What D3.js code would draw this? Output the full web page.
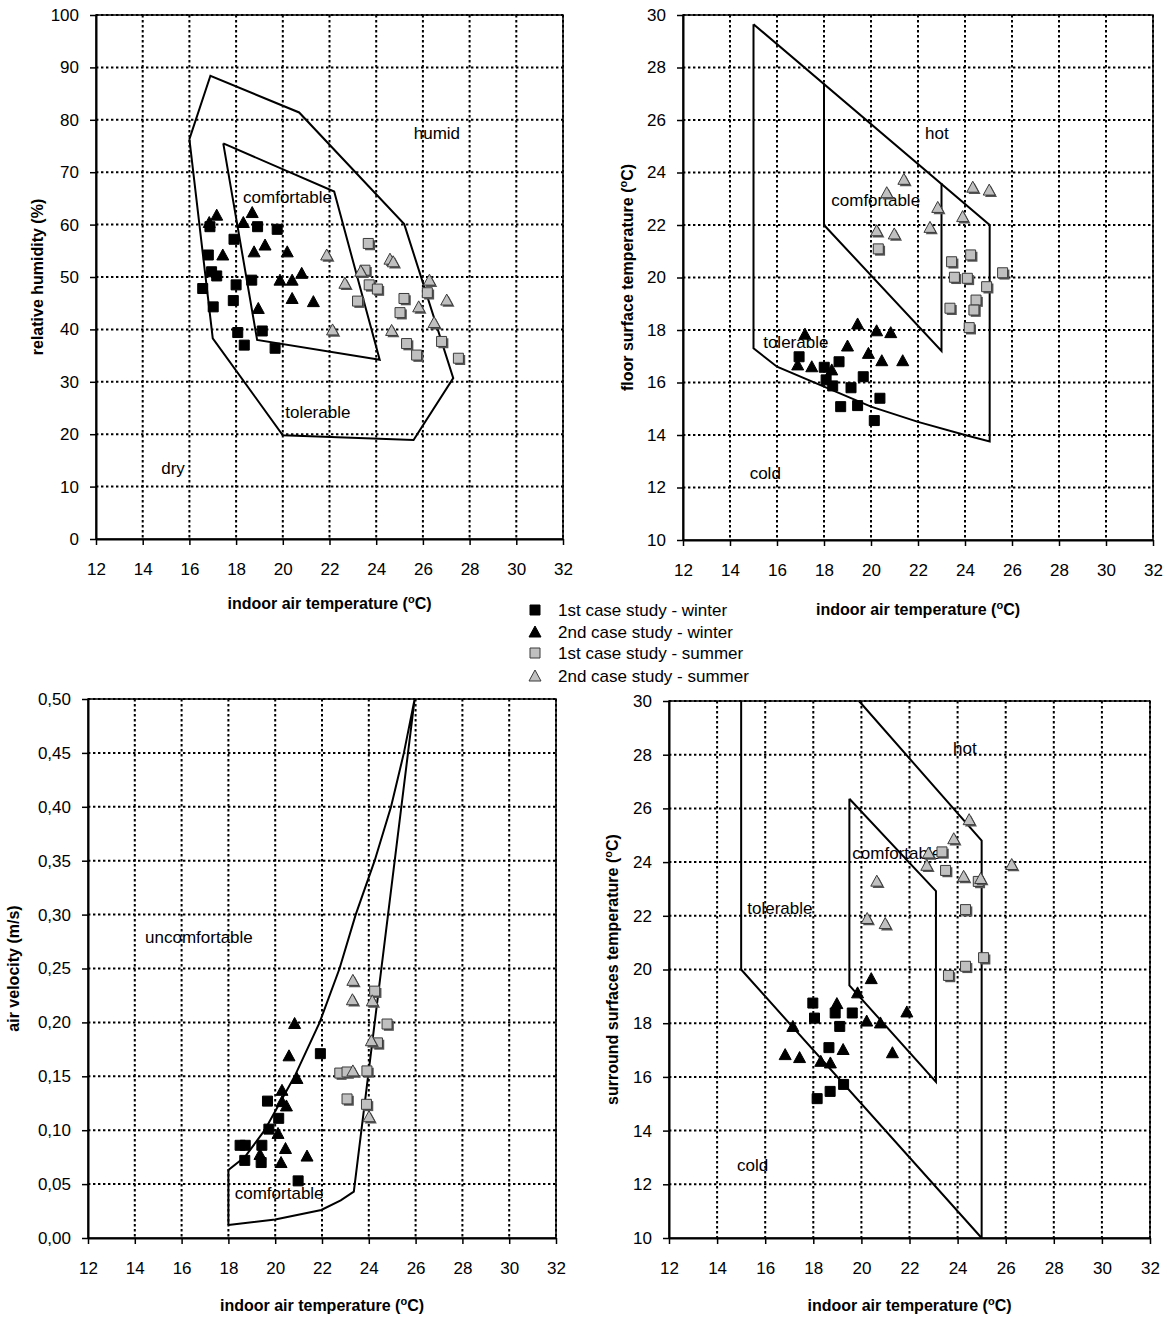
<!DOCTYPE html>
<html>
<head>
<meta charset="utf-8">
<script src="https://cdn.jsdelivr.net/npm/d3@7"></script>
<style>
  body { margin: 0; background: #fff; }
  text { font-family: Arial, "Liberation Sans", sans-serif; fill: #000; }
</style>
</head>
<body>
<svg id="chart" width="1167" height="1317"></svg>
<script>
// ---- shared axis values
const xTicks = d3.range(12, 33, 2);
const rhTicks = d3.range(0, 101, 10);
const floorTicks = d3.range(10, 31, 2);
const velTicks = [0, 0.05, 0.10, 0.15, 0.20, 0.25, 0.30, 0.35, 0.40, 0.45, 0.50];
const surrTicks = d3.range(10, 31, 2);

const seriesNames = ["1st case study - winter", "2nd case study - winter",
                     "1st case study - summer", "2nd case study - summer"];

// ---- relative humidity vs air temperature
const rhWinter1 = [[16.88,59.6],[18.92,59.6],[19.76,59.1],[17.91,57.2],[16.81,54.2],[16.95,51.0],[17.17,50.2],[16.57,47.8],
                   [18.0,48.5],[18.67,49.4],[17.88,45.5],[17.02,44.3],[18.07,39.4],[19.12,39.7],[18.35,37.0],[19.67,36.4]];
const rhWinter2 = [[16.85,60.4],[17.17,61.8],[18.31,60.4],[18.69,62.3],[19.24,56.1],[18.77,54.8],[17.43,54.2],[20.19,54.8],
                   [20.81,50.7],[19.88,49.4],[20.4,49.4],[20.4,45.9],[21.31,45.3],[18.95,44.0]];
const rhSummer1 = [[23.66,56.4],[23.52,51.3],[23.7,48.5],[24.05,47.7],[23.2,45.4],[25.19,45.9],[25.02,43.2],[26.19,47.0],
                   [25.3,37.3],[25.73,35.1],[26.8,37.7],[27.52,34.5]];
const rhSummer2 = [[21.88,54.2],[24.59,53.4],[24.73,52.9],[23.34,51.1],[22.66,48.8],[26.28,49.4],[27.02,45.6],[25.82,44.3],
                   [26.48,41.3],[24.66,39.8],[22.13,39.9]];
const rhOuter = [[16.0,76.3],[16.9,88.4],[20.7,81.4],[25.2,60.1],[27.3,30.7],[25.6,18.9],[20.0,19.8],[17.0,38.3],[16.0,76.3]];
const rhComfort = [[17.45,75.5],[22.2,66.3],[24.15,34.2],[18.9,38.0],[17.45,75.5]];
const rhLabels = [["humid",26.6,77.5],["comfortable",20.2,65.3],["tolerable",21.5,24.2],["dry",15.3,13.5]];

// ---- floor surface temperature vs air temperature
const floorWinter1 = [[16.94,16.98],[18.01,16.58],[18.64,16.79],[18.09,16.10],[18.37,15.87],[19.67,16.22],[19.15,15.80],
                      [18.71,15.08],[19.43,15.12],[20.38,15.40],[20.14,14.55]];
const floorWinter2 = [[17.19,17.84],[19.43,18.23],[20.24,17.97],[20.84,17.90],[19.0,17.39],[16.88,16.67],[17.48,16.60],
                      [18.33,16.48],[19.89,17.11],[20.46,16.83],[21.35,16.83]];
const floorSummer1 = [[20.31,21.09],[23.43,20.60],[24.24,20.86],[23.55,20.01],[24.10,19.97],[25.60,20.18],[24.92,19.65],
                      [24.47,19.14],[23.36,18.83],[24.38,18.76],[24.18,18.09]];
const floorSummer2 = [[21.40,23.74],[20.67,23.23],[22.84,22.67],[24.33,23.44],[25.03,23.33],[23.90,22.32],[20.24,21.78],
                      [20.99,21.66],[22.51,21.91]];
const floorOuter = [[15,29.65],[25.05,22.0],[25.05,13.75],[24,14.0],[22,14.5],[20,15.08],[18,15.84],[16,16.6],[15,17.3],[15,29.65]];
const floorComfort = [[18,27.4],[18,22.0],[23,17.2],[23,23.6]];
const floorLabels = [["hot",22.8,25.5],["comfortable",20.2,22.95],["tolerable",16.8,17.55],["cold",15.5,12.55]];

// ---- air velocity vs air temperature
const velWinter1 = [[21.93,0.171],[19.67,0.127],[20.15,0.111],[19.73,0.101],[18.5,0.086],[18.72,0.086],[19.43,0.086],
                    [18.70,0.072],[19.4,0.070],[20.98,0.053]];
const velWinter2 = [[20.83,0.199],[20.59,0.169],[20.93,0.148],[20.29,0.137],[20.29,0.1265],[20.48,0.1225],[20.12,0.097],
                    [20.44,0.083],[21.36,0.076],[19.35,0.0775],[20.25,0.070]];
const velSummer1 = [[24.25,0.229],[24.78,0.1985],[24.37,0.181],[22.76,0.153],[23.07,0.154],[23.92,0.155],[23.07,0.129],[23.90,0.124]];
const velSummer2 = [[23.32,0.239],[23.30,0.221],[24.15,0.220],[24.11,0.183],[23.32,0.155],[24.01,0.1125]];
const velComfort = [[18.0,0.012],[18.0,0.063],[18.7,0.075],[19.55,0.10],[20.83,0.15],[21.9,0.20],[22.75,0.25],[23.44,0.30],
                    [24.25,0.35],[24.95,0.40],[25.5,0.45],[25.96,0.50],[23.36,0.043],[22.8,0.035],[21.97,0.026],[20.0,0.0172],[18.0,0.012]];
const velLabels = [["uncomfortable",16.74,0.279],["comfortable",20.17,0.042]];

// ---- surround surfaces temperature vs air temperature
const surrWinter1 = [[17.98,18.75],[18.05,18.19],[18.91,18.38],[19.62,18.38],[19.1,17.88],[18.65,17.09],[19.26,15.72],
                     [18.7,15.46],[18.16,15.19]];
const surrWinter2 = [[20.41,19.66],[19.84,19.13],[18.98,18.73],[21.89,18.42],[20.22,18.08],[20.79,18.01],[17.15,17.88],
                     [16.83,16.83],[17.43,16.72],[19.24,17.02],[21.29,16.90],[18.31,16.58],[18.71,16.52]];
const surrSummer1 = [[23.35,24.38],[23.5,23.69],[24.86,23.28],[24.33,22.23],[25.08,20.44],[24.33,20.12],[23.62,19.78]];
const surrSummer2 = [[24.48,25.58],[23.84,24.87],[22.79,24.34],[22.72,23.88],[24.25,23.47],[24.96,23.39],[26.25,23.91],
                     [20.64,23.29],[20.24,21.90],[20.99,21.71]];
const surrOuter = [[15,30],[15,20],[25,10]];
const surrHot = [[19.9,30],[25,24.8],[25,10]];
const surrComfort = [[19.5,26.36],[23.1,22.92],[23.1,15.81],[19.5,19.41],[19.5,26.36]];
const surrLabels = [["hot",24.3,28.23],["comfortable",21.47,24.34],["tolerable",16.61,22.29],["cold",15.48,12.71]];

const svg = d3.select("#chart");

// marker shapes: black square, black triangle, grey square, grey triangle
const markerStyle = [
  { shape: "square", fill: "#000", stroke: "#000", shadow: false },
  { shape: "triangle", fill: "#000", stroke: "#000", shadow: false },
  { shape: "square", fill: "#c0c0c0", stroke: "#3a3a3a", shadow: true },
  { shape: "triangle", fill: "#c0c0c0", stroke: "#3a3a3a", shadow: true }
];
function markerPath(shape) {
  if (shape === "square") return "M-5,-5H5V5H-5Z";
  return "M0,-6L6,5H-6Z";
}
function drawMarker(sel, st) {
  if (st.shadow) {
    sel.append("path").attr("d", markerPath(st.shape))
      .attr("transform", "translate(1.8,1.8)").attr("fill", "#555");
  }
  sel.append("path").attr("d", markerPath(st.shape))
    .attr("fill", st.fill).attr("stroke", st.stroke).attr("stroke-width", 1);
}

function drawPanel(p) {
  const x = d3.scaleLinear().domain([12, 32]).range([p.left, p.right]);
  const y = d3.scaleLinear().domain(p.yDomain).range([p.bottom, p.top]);
  const g = svg.append("g");

  // zone names
  g.selectAll("text.zone")
    .data(p.labels)
    .enter()
    .append("text")
      .attr("class", "zone")
      .attr("x", d => x(d[1]))
      .attr("y", d => y(d[2]))
      .attr("dy", "0.35em")
      .attr("text-anchor", "middle")
      .style("font-size", "17px")
      .text(d => d[0]);

  // dotted grid
  g.append("g").selectAll("line")
    .data(xTicks.slice(1))
    .enter()
    .append("line")
      .attr("x1", d => x(d)).attr("x2", d => x(d))
      .attr("y1", p.top).attr("y2", p.bottom)
      .attr("stroke", "#000").attr("stroke-width", 2).attr("stroke-dasharray", "2.4,2.6");
  g.append("g").selectAll("line")
    .data(p.yTicks.slice(1))
    .enter()
    .append("line")
      .attr("y1", d => y(d)).attr("y2", d => y(d))
      .attr("x1", p.left).attr("x2", p.right)
      .attr("stroke", "#000").attr("stroke-width", 2).attr("stroke-dasharray", "2.4,2.6");

  // frame
  g.append("rect")
    .attr("x", p.left).attr("y", p.top)
    .attr("width", p.right - p.left).attr("height", p.bottom - p.top)
    .attr("fill", "none").attr("stroke", "#000").attr("stroke-width", 1.5);

  // axes
  const ax = g.append("g")
    .attr("transform", "translate(0," + p.bottom + ")")
    .call(d3.axisBottom(x).tickValues(xTicks).tickSize(6).tickSizeOuter(0).tickPadding(18));
  const ay = g.append("g")
    .attr("transform", "translate(" + p.left + ",0)")
    .call(d3.axisLeft(y).tickValues(p.yTicks).tickSize(6).tickSizeOuter(0).tickPadding(11).tickFormat(p.yFormat));
  [ax, ay].forEach(a => {
    a.select(".domain").attr("stroke", "#000").attr("stroke-width", 2);
    a.selectAll(".tick line").attr("stroke", "#000").attr("stroke-width", 1.5);
    a.selectAll(".tick text").style("font-size", "17px").attr("fill", "#000");
  });

  // comfort zone boundaries
  const line = d3.line().x(d => x(d[0])).y(d => y(d[1]));
  p.lines.forEach(l => {
    g.append("path")
      .attr("d", line(l))
      .attr("fill", "none").attr("stroke", "#000").attr("stroke-width", 2)
      .attr("stroke-linejoin", "miter");
  });

  // measurements
  p.series.forEach((s, i) => {
    g.append("g").selectAll("g")
      .data(s)
      .enter()
      .append("g")
        .attr("transform", d => "translate(" + x(d[0]) + "," + y(d[1]) + ")")
        .each(function() { drawMarker(d3.select(this), markerStyle[i]); });
  });

  // axis titles
  const xt = g.append("text")
    .attr("x", (p.left + p.right) / 2).attr("y", p.xTitleY)
    .attr("dy", "0.35em").attr("text-anchor", "middle")
    .style("font-size", "16px").style("font-weight", "bold");
  xt.append("tspan").text("indoor air temperature (");
  xt.append("tspan").attr("baseline-shift", "super").style("font-size", "11px").text("o");
  xt.append("tspan").text("C)");

  const yt = g.append("text")
    .attr("transform", "translate(" + p.yTitleX + "," + (p.top + p.bottom) / 2 + ") rotate(-90)")
    .attr("dy", "0.35em").attr("text-anchor", "middle")
    .style("font-size", "16px").style("font-weight", "bold");
  yt.append("tspan").text(p.yTitle);
  if (p.yUnitDeg) {
    yt.append("tspan").attr("baseline-shift", "super").style("font-size", "11px").text("o");
    yt.append("tspan").text("C)");
  }
}

drawPanel({
  left: 96, right: 563, top: 15, bottom: 539,
  yDomain: [0, 100], yTicks: rhTicks, yFormat: d3.format("d"),
  series: [rhWinter1, rhWinter2, rhSummer1, rhSummer2],
  lines: [rhOuter, rhComfort], labels: rhLabels,
  xTitleY: 603, yTitleX: 37, yTitle: "relative humidity (%)", yUnitDeg: false
});
drawPanel({
  left: 683, right: 1153, top: 15, bottom: 540,
  yDomain: [10, 30], yTicks: floorTicks, yFormat: d3.format("d"),
  series: [floorWinter1, floorWinter2, floorSummer1, floorSummer2],
  lines: [floorOuter, floorComfort], labels: floorLabels,
  xTitleY: 609, yTitleX: 627, yTitle: "floor surface temperature (", yUnitDeg: true
});
drawPanel({
  left: 88, right: 556, top: 699, bottom: 1238,
  yDomain: [0, 0.5], yTicks: velTicks, yFormat: d => d3.format(".2f")(d).replace(".", ","),
  series: [velWinter1, velWinter2, velSummer1, velSummer2],
  lines: [velComfort], labels: velLabels,
  xTitleY: 1305, yTitleX: 13, yTitle: "air velocity (m/s)", yUnitDeg: false
});
drawPanel({
  left: 669, right: 1150, top: 701, bottom: 1238,
  yDomain: [10, 30], yTicks: surrTicks, yFormat: d3.format("d"),
  series: [surrWinter1, surrWinter2, surrSummer1, surrSummer2],
  lines: [surrOuter, surrHot, surrComfort], labels: surrLabels,
  xTitleY: 1305, yTitleX: 612, yTitle: "surround surfaces temperature (", yUnitDeg: true
});

// legend (shared)
const legend = svg.append("g").attr("transform", "translate(535,610)");
const rows = legend.selectAll("g")
  .data(seriesNames)
  .enter()
  .append("g")
    .attr("transform", (d, i) => "translate(0," + [0, 22, 43, 66][i] + ")");
rows.each(function(d, i) {
  const st = markerStyle[i];
  d3.select(this).append("path").attr("d", markerPath(st.shape))
    .attr("fill", st.fill).attr("stroke", st.stroke).attr("stroke-width", 1);
});
rows.append("text")
  .attr("x", 23).attr("dy", "0.35em")
  .style("font-size", "17px")
  .text(d => d);
</script>
</body>
</html>
